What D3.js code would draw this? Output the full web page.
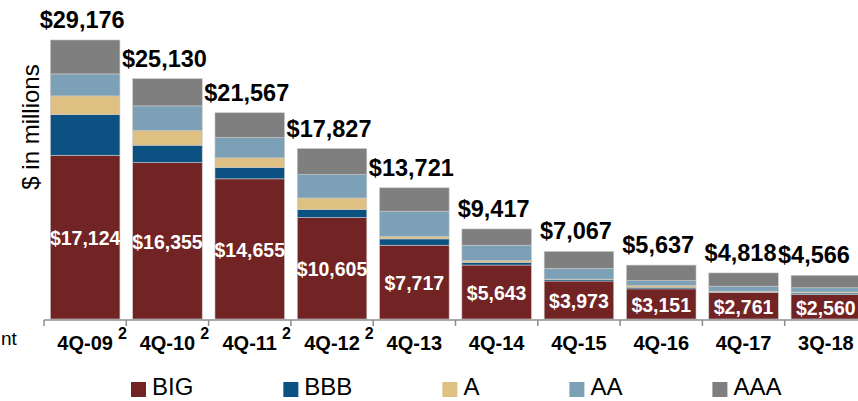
<!DOCTYPE html>
<html>
<head>
<meta charset="utf-8">
<script src="https://cdn.jsdelivr.net/npm/d3@7"></script>
<style>
  body { margin: 0; background: #fff; }
  svg { display: block; font-family: "Liberation Sans", Arial, sans-serif; }
</style>
</head>
<body>
<div id="chart"></div>
<script>
// Daten ($ in Mio.)
const categories = ["4Q-09", "4Q-10", "4Q-11", "4Q-12", "4Q-13", "4Q-14", "4Q-15", "4Q-16", "4Q-17", "3Q-18"];
const footnotes  = ["2", "2", "2", "2", "", "", "", "", "", ""];
const big = [17124, 16355, 14655, 10605, 7717, 5643, 3973, 3151, 2761, 2560];
const bbb = [4250, 1820, 1190, 837, 660, 284, 139, 171, 47, 156];
const a   = [1955, 1527, 1005, 1213, 250, 170, 60, 175, 100, 110];
const aa  = [2300, 2583, 2130, 2447, 2650, 1620, 1120, 520, 520, 440];
const aaa = [3547, 2845, 2587, 2725, 2444, 1700, 1775, 1620, 1390, 1300];
const totals = [29176, 25130, 21567, 17827, 13721, 9417, 7067, 5637, 4818, 4566];

const seriesNames = ["BIG", "BBB", "A", "AA", "AAA"];
const seriesColors = ["#722323", "#0b5282", "#dfc083", "#7ca1b6", "#7f7f7f"];

const width = 858, height = 401;

const rows = categories.map((c, i) => ({
  cat: c, BIG: big[i], BBB: bbb[i], A: a[i], AA: aa[i], AAA: aaa[i], total: totals[i], note: footnotes[i]
}));

const svg = d3.select("#chart").append("svg")
  .attr("width", width)
  .attr("height", height);

const x = d3.scaleBand()
  .domain(categories)
  .range([44, 44 + 823])
  .paddingInner(0.155)
  .paddingOuter(0.0775);

const y = d3.scaleLinear()
  .domain([0, 30000])
  .range([319, 319 - 30000 * 0.009563]);

const color = d3.scaleOrdinal().domain(seriesNames).range(seriesColors);

const stacked = d3.stack().keys(seriesNames)(rows);

// Balken
svg.append("g")
  .selectAll("g")
  .data(stacked)
  .enter().append("g")
  .attr("fill", d => color(d.key))
  .selectAll("rect")
  .data(d => d)
  .enter().append("rect")
  .attr("x", d => x(d.data.cat))
  .attr("y", d => y(d[1]))
  .attr("width", x.bandwidth())
  .attr("height", d => y(d[0]) - y(d[1]))
  .attr("stroke", "#c8c8c8")
  .attr("stroke-width", 0.6);

// Achse unten
const axis = svg.append("g").attr("class", "axis");
axis.append("line")
  .attr("x1", x.range()[0]).attr("x2", x.range()[1])
  .attr("y1", 320).attr("y2", 320)
  .attr("stroke", "#8c8c8c").attr("stroke-width", 1.5);
axis.selectAll("line.tick")
  .data(categories.concat(["end"]))
  .enter().append("line")
  .attr("class", "tick")
  .attr("x1", (d, i) => x.range()[0] + i * x.step())
  .attr("x2", (d, i) => x.range()[0] + i * x.step())
  .attr("y1", 320).attr("y2", 326)
  .attr("stroke", "#8c8c8c").attr("stroke-width", 1.5);

// Kategorie-Beschriftung
const labels = axis.selectAll("text.cat")
  .data(rows)
  .enter().append("text")
  .attr("class", "cat")
  .attr("x", d => x(d.cat) + x.bandwidth() / 2)
  .attr("y", 350)
  .attr("text-anchor", "middle")
  .attr("font-size", "20px")
  .attr("font-weight", "bold")
  .attr("fill", "#000")
  .text(d => d.cat);

labels.each(function(d) {
  if (!d.note) return;
  const w = this.getComputedTextLength();
  axis.append("text")
    .attr("x", x(d.cat) + x.bandwidth() / 2 + w / 2 + 5)
    .attr("y", 339)
    .attr("font-size", "16px")
    .attr("font-weight", "bold")
    .text(d.note);
});

// Rest einer abgeschnittenen Beschriftung links
svg.append("text")
  .attr("x", 1)
  .attr("y", 345)
  .attr("font-size", "19px")
  .text("nt");

// Y-Titel
svg.append("text")
  .attr("transform", "translate(39,127) rotate(-90)")
  .attr("text-anchor", "middle")
  .attr("font-size", "24px")
  .text("$ in millions");

// Summen über den Balken
svg.append("g")
  .selectAll("text")
  .data(rows)
  .enter().append("text")
  .attr("x", d => Math.min(x(d.cat) + x.bandwidth() / 2 - 3, width - 44))
  .attr("y", d => y(d.BIG + d.BBB + d.A + d.AA + d.AAA) - 12)
  .attr("text-anchor", "middle")
  .attr("font-size", "23.5px")
  .attr("font-weight", "bold")
  .text(d => "$" + d3.format(",")(d.total));

// BIG-Werte im Balken
svg.append("g")
  .selectAll("text")
  .data(rows)
  .enter().append("text")
  .attr("x", d => x(d.cat) + x.bandwidth() / 2)
  .attr("y", d => (y(0) + y(d.BIG)) / 2 + 8)
  .attr("text-anchor", "middle")
  .attr("font-size", "19.5px")
  .attr("font-weight", "bold")
  .attr("fill", "#fff")
  .text(d => "$" + d3.format(",")(d.BIG));

// Legende
const legend = svg.append("g");
let lx = 131;
seriesNames.forEach(function(name) {
  legend.append("rect")
    .attr("x", lx).attr("y", 382)
    .attr("width", 15).attr("height", 15)
    .attr("fill", color(name));
  const t = legend.append("text")
    .attr("x", lx + 21)
    .attr("y", 395)
    .attr("font-size", "24px")
    .text(name);
  lx += 21 + t.node().getComputedTextLength() + 90;
});
</script>
</body>
</html>
